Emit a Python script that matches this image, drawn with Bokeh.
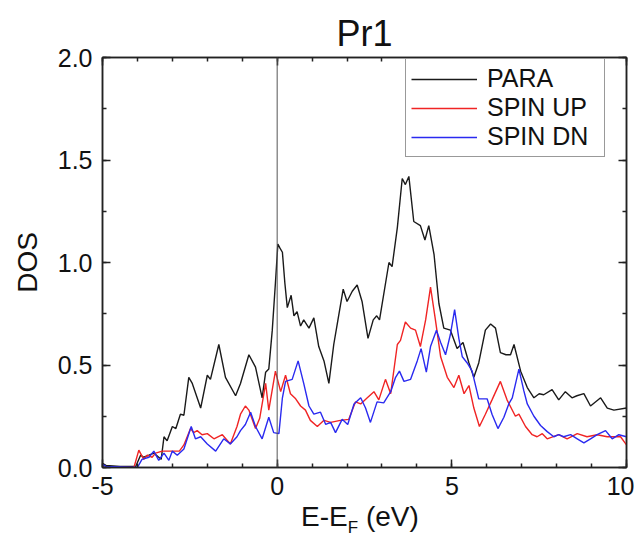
from bokeh.plotting import figure
from bokeh.models import (Range1d, LinearAxis, SingleIntervalTicker, Span, Div,
                          PrintfTickFormatter, CustomJSTickFormatter)
from bokeh.layouts import column
from bokeh.embed import file_html
from bokeh.resources import INLINE

# ---------------- data ----------------
title_text = "Pr1"
y_label = "DOS"
x_label_main = "E-E"
x_label_sub = "F"
x_label_unit = "(eV)"
fermi_level = 0.0

para_e = [-5.00, -4.90, -4.50, -4.05, -3.91, -3.82, -3.67, -3.53, -3.39, -3.32, -3.24, -3.15,
          -3.00, -2.90, -2.77, -2.67, -2.53, -2.43, -2.19, -2.00, -1.91, -1.67, -1.48, -1.19,
          -1.05, -0.81, -0.62, -0.43, -0.33, -0.24, -0.14, -0.05, 0.02, 0.08, 0.15, 0.22,
          0.29, 0.40, 0.48, 0.57, 0.67, 0.76, 0.91, 1.05, 1.19, 1.34, 1.48, 1.62, 1.74, 1.89,
          2.00, 2.15, 2.29, 2.43, 2.60, 2.75, 2.85, 2.93, 3.20, 3.29, 3.44, 3.58, 3.67, 3.77,
          3.91, 4.10, 4.23, 4.34, 4.49, 4.63, 4.77, 4.96, 5.15, 5.32, 5.49, 5.63, 5.77, 5.96,
          6.11, 6.25, 6.39, 6.55, 6.68, 6.78, 6.97, 7.16, 7.35, 7.50, 7.63, 7.87, 8.06, 8.25,
          8.44, 8.58, 8.78, 8.97, 9.26, 9.45, 9.64, 10.00]
para_dos = [0.02, 0.01, 0.005, 0.005, 0.06, 0.05, 0.06, 0.07, 0.05, 0.04, 0.15, 0.13,
            0.20, 0.19, 0.26, 0.255, 0.44, 0.41, 0.29, 0.45, 0.43, 0.60, 0.44, 0.35,
            0.41, 0.55, 0.49, 0.34, 0.465, 0.48, 0.67, 0.90, 1.09, 1.07, 1.05, 0.90,
            0.78, 0.84, 0.74, 0.76, 0.69, 0.72, 0.68, 0.73, 0.59, 0.52, 0.41, 0.60, 0.72, 0.87,
            0.81, 0.86, 0.89, 0.81, 0.63, 0.72, 0.74, 0.72, 1.00, 0.98, 1.17, 1.41, 1.38, 1.42,
            1.20, 1.18, 1.11, 1.18, 1.04, 0.80, 0.68, 0.67, 0.58, 0.61, 0.51, 0.44, 0.51, 0.67,
            0.70, 0.68, 0.56, 0.55, 0.55, 0.60, 0.47, 0.39, 0.34, 0.36, 0.355, 0.38, 0.33, 0.37,
            0.34, 0.35, 0.36, 0.30, 0.34, 0.29, 0.28, 0.29]

up_e = [-5.00, -4.10, -3.96, -3.82, -3.72, -3.58, -3.48, -3.29, -3.00, -2.80, -2.67, -2.48,
        -2.39, -2.29, -2.15, -2.00, -1.81, -1.57, -1.34, -1.15, -1.05, -0.91, -0.81, -0.62,
        -0.50, -0.33, -0.24, -0.05, 0.10, 0.24, 0.38, 0.53, 0.67, 0.81, 0.95, 1.15, 1.34,
        1.53, 1.81, 2.05, 2.24, 2.39, 2.58, 2.77, 2.91, 3.10, 3.25, 3.44, 3.53, 3.67, 3.82,
        3.96, 4.10, 4.25, 4.39, 4.53, 4.68, 4.87, 5.06, 5.20, 5.35, 5.49, 5.63, 5.79, 5.96,
        6.15, 6.39, 6.58, 6.82, 6.92, 7.11, 7.30, 7.44, 7.59, 7.73, 8.06, 8.30, 8.59, 8.87,
        9.16, 9.45, 9.83, 10.00]
up_dos = [0.0, 0.0, 0.085, 0.04, 0.06, 0.05, 0.07, 0.08, 0.08, 0.08, 0.11, 0.19,
          0.17, 0.18, 0.16, 0.165, 0.14, 0.16, 0.115, 0.20, 0.26, 0.30, 0.28, 0.19,
          0.24, 0.41, 0.28, 0.47, 0.37, 0.45, 0.36, 0.335, 0.30, 0.28, 0.23, 0.20, 0.23,
          0.22, 0.23, 0.235, 0.32, 0.31, 0.34, 0.37, 0.33, 0.43, 0.36, 0.60, 0.62, 0.71, 0.68,
          0.67, 0.59, 0.72, 0.88, 0.72, 0.54, 0.44, 0.39, 0.45, 0.36, 0.40, 0.29, 0.20, 0.26,
          0.33, 0.42, 0.33, 0.25, 0.26, 0.20, 0.16, 0.15, 0.165, 0.14, 0.16, 0.14, 0.165, 0.15,
          0.16, 0.15, 0.15, 0.11]

dn_e = [-5.00, -4.90, -4.00, -3.87, -3.67, -3.53, -3.39, -3.24, -3.10, -3.00, -2.86, -2.67,
        -2.46, -2.34, -2.19, -2.00, -1.76, -1.53, -1.34, -1.15, -1.05, -0.91, -0.76, -0.62,
        -0.43, -0.24, -0.10, 0.05, 0.15, 0.24, 0.43, 0.60, 0.76, 0.91, 1.05, 1.24, 1.39,
        1.53, 1.67, 1.86, 2.02, 2.20, 2.39, 2.53, 2.67, 2.86, 3.05, 3.25, 3.39, 3.50, 3.63,
        3.82, 4.01, 4.12, 4.27, 4.39, 4.56, 4.68, 4.82, 4.96, 5.08, 5.20, 5.30, 5.44, 5.58,
        5.77, 6.01, 6.15, 6.32, 6.49, 6.63, 6.73, 6.92, 7.06, 7.16, 7.35, 7.54, 7.73, 7.92,
        8.06, 8.20, 8.40, 8.59, 8.78, 8.97, 9.16, 9.40, 9.59, 9.78, 10.00]
dn_dos = [0.015, 0.005, 0.0, 0.04, 0.05, 0.08, 0.035, 0.07, 0.035, 0.08, 0.06, 0.09,
          0.20, 0.14, 0.15, 0.115, 0.08, 0.14, 0.115, 0.15, 0.18, 0.21, 0.27, 0.20,
          0.14, 0.245, 0.17, 0.165, 0.34, 0.42, 0.43, 0.52, 0.41, 0.30, 0.26, 0.27, 0.21,
          0.22, 0.17, 0.235, 0.21, 0.31, 0.34, 0.29, 0.22, 0.32, 0.315, 0.37, 0.44, 0.47, 0.42,
          0.43, 0.52, 0.58, 0.465, 0.59, 0.67, 0.61, 0.55, 0.65, 0.77, 0.63, 0.54, 0.51, 0.47,
          0.335, 0.335, 0.26, 0.19, 0.245, 0.31, 0.34, 0.48, 0.375, 0.31, 0.25, 0.205, 0.175, 0.15,
          0.16, 0.15, 0.16, 0.14, 0.12, 0.14, 0.16, 0.18, 0.14, 0.16, 0.15]

series_names = ["PARA", "SPIN UP", "SPIN DN"]
series_colors = ["#1a1a1a", "#f02424", "#2a2af0"]

FONT = "Liberation Sans"
AXIS_COLOR = "#222222"

# ---------------- figure ----------------
p = figure(width=634, height=504, x_range=Range1d(-5, 10), y_range=Range1d(0, 2),
           output_backend="svg", toolbar_location=None,
           min_border_left=102, min_border_right=8, min_border_top=57, min_border_bottom=37)
p.background_fill_color = "white"
p.border_fill_color = "white"
p.outline_line_color = AXIS_COLOR
p.outline_line_width = 1.5
p.xgrid.visible = False
p.ygrid.visible = False

p.title.text = title_text
p.title.align = "center"
p.title.text_font = FONT
p.title.text_font_style = "normal"
p.title.text_font_size = "36px"
p.title.text_color = "#111111"
p.title.offset = -9
p.title.standoff = 8

x_ticker = SingleIntervalTicker(interval=5, num_minor_ticks=5)
y_ticker = SingleIntervalTicker(interval=0.5, num_minor_ticks=2)


def style_axis(ax):
    ax.axis_line_color = AXIS_COLOR
    ax.axis_line_width = 1.5
    ax.major_tick_line_color = AXIS_COLOR
    ax.minor_tick_line_color = AXIS_COLOR
    ax.major_tick_line_width = 1.5
    ax.minor_tick_line_width = 1.5
    ax.major_tick_in = 8
    ax.major_tick_out = 0
    ax.minor_tick_in = 4
    ax.minor_tick_out = 0
    ax.major_label_text_font = FONT
    ax.major_label_text_font_size = "25px"
    ax.major_label_text_color = "#111111"
    ax.axis_label_text_font = FONT
    ax.axis_label_text_font_style = "normal"
    ax.axis_label_text_font_size = "28px"
    ax.axis_label_text_color = "#111111"


xax = p.xaxis[0]
yax = p.yaxis[0]
xax.ticker = x_ticker
yax.ticker = y_ticker
xax.formatter = PrintfTickFormatter(format="%d")
yax.formatter = PrintfTickFormatter(format="%.1f")
style_axis(xax)
style_axis(yax)
xax.major_label_standoff = 9
yax.major_label_standoff = 10
yax.axis_label = y_label
yax.axis_label_standoff = 12

# mirrored axes (ticks only)
top = LinearAxis(ticker=x_ticker, formatter=CustomJSTickFormatter(code="return ''"))
right = LinearAxis(ticker=y_ticker, formatter=CustomJSTickFormatter(code="return ''"))
for ax in (top, right):
    style_axis(ax)
    ax.major_label_text_font_size = "0px"
    ax.major_label_standoff = 0
p.add_layout(top, "above")
p.add_layout(right, "right")

# Fermi level marker
p.add_layout(Span(location=fermi_level, dimension="height", line_color="#555555", line_width=1))

# curves
for e, d, name, col in zip([para_e, up_e, dn_e], [para_dos, up_dos, dn_dos],
                           series_names, series_colors):
    p.line(e, d, line_color=col, line_width=1.4, legend_label=name)

lg = p.legend[0]
lg.location = (303, 310)
lg.margin = 0
lg.padding = 5
lg.spacing = 0
lg.label_height = 28
lg.glyph_height = 28
lg.glyph_width = 66
lg.label_standoff = 10
lg.label_width = 112
lg.label_text_font = FONT
lg.label_text_font_size = "25px"
lg.label_text_color = "#111111"
lg.border_line_color = "#333333"
lg.border_line_width = 1.5
lg.background_fill_color = "white"
lg.background_fill_alpha = 1.0

# x-axis label with a real subscript, placed under the plot
xlabel_html = (
    '<div style="width:548px;margin-left:86px;text-align:center;'
    'font-family:\'Liberation Sans\',Arial,sans-serif;font-size:28px;line-height:24px;'
    'color:#111111;white-space:nowrap;padding-top:1px;">'
    f'{x_label_main}<span style="font-size:17px;line-height:17px;position:relative;top:7px;">'
    f'{x_label_sub}</span> {x_label_unit}</div>'
)
xlabel = Div(text=xlabel_html, width=634, height=32, margin=(0, 0, 0, 0))

page = column(p, xlabel, spacing=0)

open("out.html", "w").write(file_html(page, INLINE))
